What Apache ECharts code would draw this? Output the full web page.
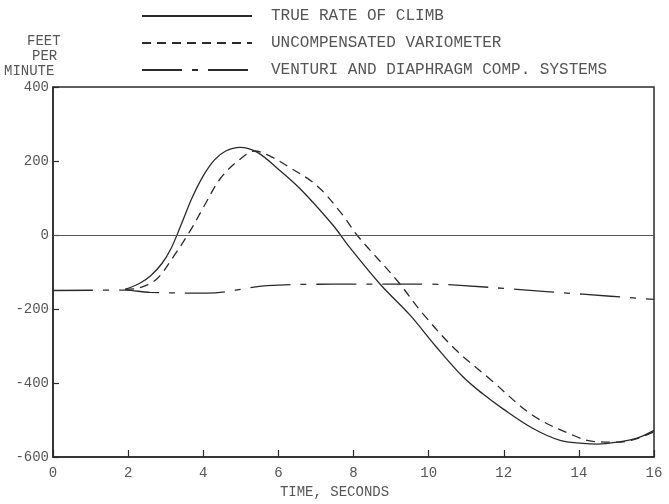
<!DOCTYPE html>
<html>
<head>
<meta charset="utf-8">
<script src="https://cdn.jsdelivr.net/npm/echarts@6/dist/echarts.min.js"></script>
<style>
html,body{margin:0;padding:0;background:#fff;}
#chart{width:669px;height:504px;}
</style>
</head>
<body>
<div id="chart"></div>
<script>
// Series names
var seriesNames = ['TRUE RATE OF CLIMB', 'UNCOMPENSATED VARIOMETER', 'VENTURI AND DIAPHRAGM COMP. SYSTEMS'];

// True rate of climb (time s, ft/min)
var trueTime = [1.92, 2.3, 2.6, 2.9, 3.15, 3.4, 3.7, 4.0, 4.3, 4.6, 4.98, 5.43, 6.0, 6.58, 7.45, 7.91, 8.71, 9.5, 10.2, 10.92, 11.45, 11.98, 12.78, 13.5, 14.11, 14.48, 15.02, 15.55, 16.0];
var trueRate = [-147, -131, -110, -77, -35, 25, 100, 160, 203, 227, 237, 224, 178, 125, 27, -35, -133, -216, -302, -384, -430, -470, -523, -555, -563, -565, -560, -549, -528];

// Uncompensated variometer
var uncompTime = [1.92, 2.3, 2.77, 3.19, 3.65, 3.99, 4.45, 4.98, 5.38, 5.8, 6.23, 7.03, 7.72, 8.09, 9.16, 9.85, 10.7, 11.63, 12.78, 13.84, 14.38, 15.02, 15.5, 16.0];
var uncompRate = [-147, -143, -118, -61, 11, 72, 152, 205, 227, 212, 187, 133, 53, 0, -123, -213, -308, -389, -488, -541, -558, -560, -552, -532];

// Venturi and diaphragm compensated systems
var ventTime = [0, 1.92, 2.58, 4.1, 5.7, 7.45, 10.1, 10.84, 12.35, 14.1, 16.0];
var ventRate = [-150, -149, -155, -157, -137, -133, -133, -136, -147, -160, -174];

// Axis ticks
var xTicks = [0, 2, 4, 6, 8, 10, 12, 14, 16];
var yTicks = [-600, -400, -200, 0, 200, 400];
var yTitleLines = ['FEET', 'PER', 'MINUTE'];
var xTitle = 'TIME, SECONDS';

function pairs(xs, ys) { return xs.map(function (x, i) { return [x, ys[i]]; }); }

var FONT = '"Liberation Mono", "DejaVu Sans Mono", monospace';
var LINE = '#2a2a2a';
var TXT = '#555';

var chart = echarts.init(document.getElementById('chart'), null, {renderer: 'canvas'});
chart.setOption({
  animation: false,
  backgroundColor: '#fff',
  grid: {left: 53, right: 15, top: 87, bottom: 42, show: true, borderColor: LINE, borderWidth: 1.5, backgroundColor: 'transparent'},
  legend: {
    orient: 'vertical', left: 136, top: 3, itemWidth: 110, itemHeight: 14, itemGap: 11,
    data: seriesNames,
    itemStyle: {opacity: 0},
    textStyle: {fontFamily: FONT, fontSize: 16, color: TXT, padding: [0, 0, 0, 14]}
  },
  xAxis: {
    type: 'value', min: xTicks[0], max: xTicks[xTicks.length - 1], interval: 2,
    axisLine: {show: true, onZero: false, lineStyle: {color: LINE, width: 1.5}},
    axisTick: {show: true, inside: true, length: 7, lineStyle: {color: LINE, width: 1.2}},
    axisLabel: {fontFamily: FONT, fontSize: 14, color: TXT, margin: 9},
    splitLine: {show: false},
    name: xTitle, nameLocation: 'middle', nameGap: 28,
    nameTextStyle: {fontFamily: FONT, fontSize: 14, color: TXT, padding: [0, 38, 0, 0]}
  },
  yAxis: {
    type: 'value', min: yTicks[0], max: yTicks[yTicks.length - 1], interval: 200,
    axisLine: {show: true, onZero: false, lineStyle: {color: LINE, width: 1.5}},
    axisTick: {show: true, inside: true, length: 6, lineStyle: {color: LINE, width: 1.2}},
    axisLabel: {fontFamily: FONT, fontSize: 14, color: TXT, margin: 4},
    splitLine: {show: false}
  },
  graphic: [
    {type: 'text', left: 27, top: 34, style: {text: yTitleLines[0], font: '14px ' + FONT, fill: TXT}},
    {type: 'text', left: 32, top: 49, style: {text: yTitleLines[1], font: '14px ' + FONT, fill: TXT}},
    {type: 'text', left: 4, top: 64, style: {text: yTitleLines[2], font: '14px ' + FONT, fill: TXT}}
  ],
  series: [
    {
      name: seriesNames[0], type: 'line', data: pairs(trueTime, trueRate), smooth: 0.35,
      symbol: 'none', lineStyle: {color: LINE, width: 1.3, type: 'solid'}, itemStyle: {color: LINE},
      markLine: {
        silent: true, symbol: 'none', label: {show: false},
        lineStyle: {color: '#555', width: 1.1, type: 'solid'},
        data: [{yAxis: 0}]
      }
    },
    {
      name: seriesNames[1], type: 'line', data: pairs(uncompTime, uncompRate), smooth: 0.35,
      symbol: 'none', lineStyle: {color: LINE, width: 1.3, type: [9, 6]}, itemStyle: {color: LINE}
    },
    {
      name: seriesNames[2], type: 'line', data: pairs(ventTime, ventRate), smooth: 0.35,
      symbol: 'none', lineStyle: {color: LINE, width: 1.3, type: [40, 10, 6, 10]}, itemStyle: {color: LINE}
    }
  ]
});
</script>
</body>
</html>
